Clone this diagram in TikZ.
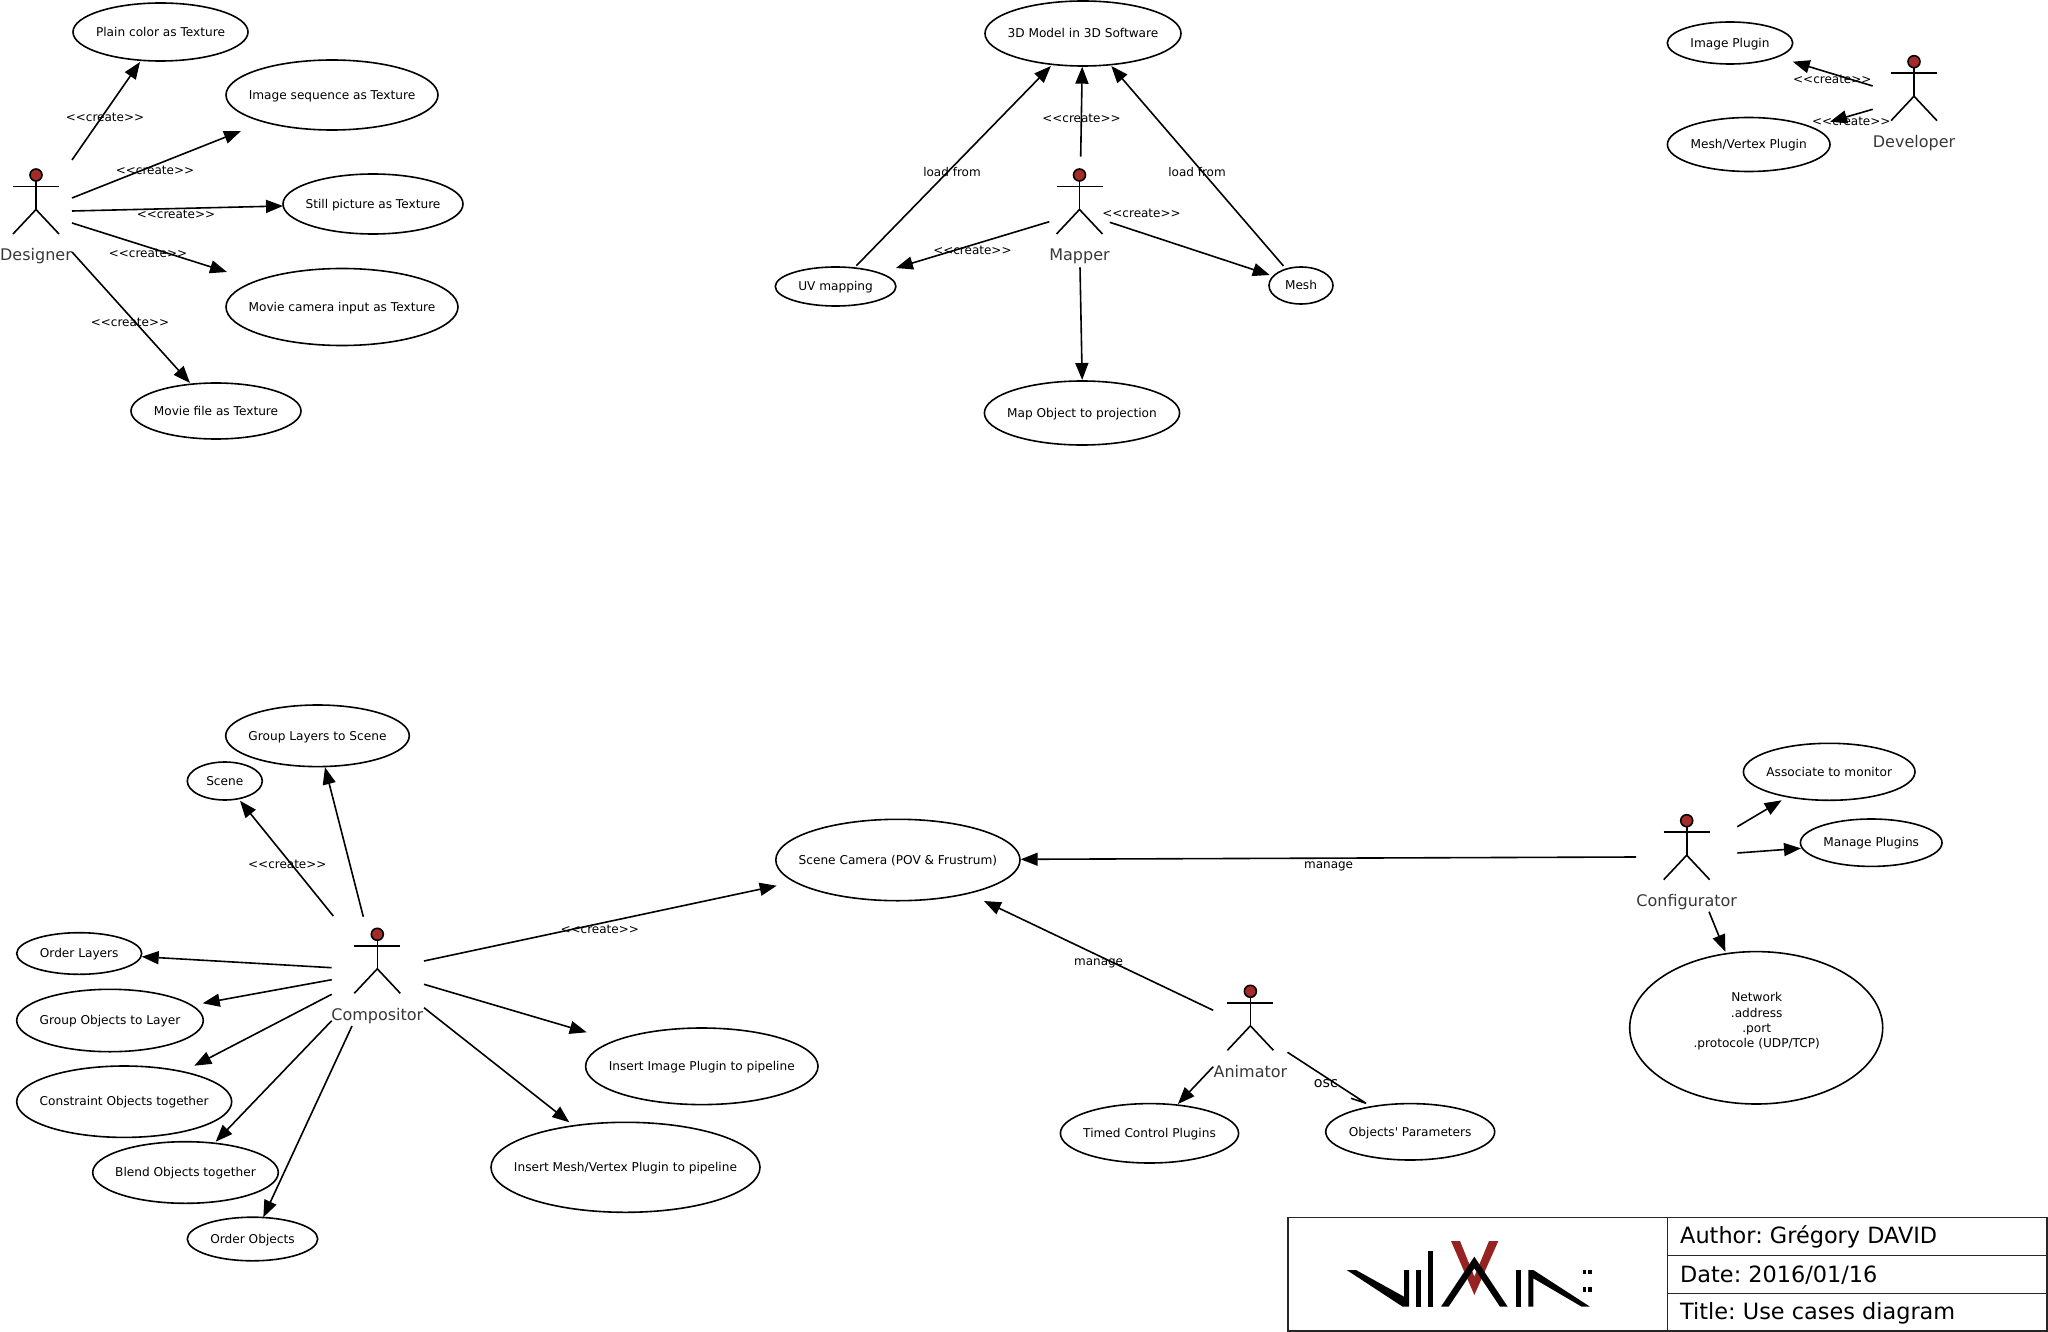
\documentclass[tikz,border=0pt]{standalone}
\usepackage{fontspec}
\setmainfont{DejaVu Sans}[Ligatures=TeXOff]
\usetikzlibrary{shapes.geometric,arrows.meta}
\definecolor{headred}{HTML}{A52A2A}
\definecolor{logored}{HTML}{962222}
\frenchspacing
\tikzset{
  usecase/.style={draw=black,line width=1.6pt,ellipse,inner sep=0pt,outer sep=0pt},
  uclabel/.style={font=\fontsize{12.15}{15.3}\selectfont,inner sep=0pt,text height=11pt,text depth=2.5pt},
  ucmulti/.style={font=\fontsize{12.15}{15.3}\selectfont,inner sep=0pt,align=center},
  edgelab/.style={font=\fontsize{12}{14}\selectfont,inner sep=0pt,text height=12pt,text depth=2.5pt},
  osclab/.style={font=\fontsize{14.3}{16}\selectfont,inner sep=0pt,text height=12pt,text depth=2.5pt},
  actorbox/.style={inner sep=0pt,minimum width=72pt,minimum height=110pt},
  actorname/.style={font=\fontsize{16}{18}\selectfont,text=black!78,inner sep=0pt,text height=12pt,text depth=3.5pt},
  stick/.style={line width=1.6pt,draw=black},
  conn/.style={line width=1.6pt,draw=black,-{Triangle[length=17pt,width=13pt]}},
  plainconn/.style={line width=1.6pt,draw=black,line join=bevel},
  tbline/.style={line width=1.5pt,draw=black!85},
  tbtext/.style={font=\fontsize{22.4}{24}\selectfont,inner sep=0pt,anchor=west,text height=16pt,text depth=5pt}
}
\newcommand{\crea}{<<create>>}
\newcommand{\uc}[6]{\node[usecase,minimum width={2*#4 pt},minimum height={2*#5 pt},label={[uclabel]center:#6}] (#1) at (#2,#3) {};}
\newcommand{\actor}[4]{%
  \node[actorbox] (#1) at (#2,#3) {};
  \node[actorname] (#1-name) at (#2,#3+44.5) {#4};
  \begin{scope}[shift={(#1.center)}]
    \draw[stick] (0,-31) -- (0,-2.5);
    \draw[stick] (-23,-25.5) -- (23,-25.5);
    \draw[stick] (-23,22) -- (0,-2.5) -- (23,22);
    \draw[stick,fill=headred] (0,-37) circle[radius=6];
  \end{scope}}
\newcommand{\link}[4]{\draw[conn] ([shift={(#2)}]#1.center) -- ([shift={(#4)}]#3.center);}
\begin{document}
\begin{tikzpicture}[x=1pt,y=-1pt]
\useasboundingbox (0,0) rectangle (2048,1332);
% Designer
\uc{plain}{160.5}{32}{87.5}{29}{Plain color as Texture}
\uc{imgseq}{332}{95}{106}{35}{Image sequence as Texture}
\uc{still}{373}{204}{90}{30}{Still picture as Texture}
\uc{camera}{342}{307}{116}{38.5}{Movie camera input as Texture}
\uc{moviefile}{216}{411}{85}{28}{Movie file as Texture}
\actor{designer}{36}{212}{Designer}
\link{designer}{36,-52}{plain}{-20.5,30}
\link{designer}{36,-14}{imgseq}{-91,36}
\link{designer}{36,-1}{still}{-90,2}
\link{designer}{36,11}{camera}{-115,-35}
\link{designer}{36,40}{moviefile}{-26,-28}
\node[edgelab] (d1) at (105,117) {\crea};
\node[edgelab] (d2) at (155,170) {\crea};
\node[edgelab] (d3) at (176,214) {\crea};
\node[edgelab] (d4) at (148,253) {\crea};
\node[edgelab] (d5) at (130,322) {\crea};
% Mapper
\uc{model}{1083}{33.5}{98}{32.5}{3D Model in 3D Software}
\uc{uv}{835.6}{286.5}{60.3}{19.5}{UV mapping}
\uc{mesh}{1301}{285.5}{32}{18.5}{Mesh}
\uc{mapobj}{1082}{413}{97.6}{32}{Map Object to projection}
\actor{mapper}{1079.5}{212}{Mapper}
\link{mapper}{1.2,-55.3}{model}{-0.8,33.2}
\link{mapper}{-30.2,9.7}{uv}{60.3,-18.5}
\link{mapper}{30.3,10.3}{mesh}{-31.2,-10.5}
\link{mapper}{0.5,55.3}{mapobj}{0.2,-33}
\link{uv}{20.8,-20.8}{model}{-32.1,32.5}
\link{mesh}{-17.5,-19.5}{model}{28.3,32.5}
\node[edgelab] (m1) at (952,171.7) {load from};
\node[edgelab] (m2) at (1081.5,117.7) {\crea};
\node[edgelab] (m3) at (1197,171.7) {load from};
\node[edgelab] (m4) at (1141.5,212.7) {\crea};
\node[edgelab] (m5) at (972.4,249.7) {\crea};
% Developer
\uc{imgplug}{1730}{43}{62.7}{21}{Image Plugin}
\uc{meshplug}{1748.7}{144.5}{81.3}{27}{Mesh/Vertex Plugin}
\actor{developer}{1914}{98.7}{Developer}
\link{developer}{-41.3,-12.7}{imgplug}{62.7,18.7}
\link{developer}{-41.3,10.6}{meshplug}{81.3,-22.8}
\node[edgelab] (v1) at (1832.3,79) {\crea};
\node[edgelab] (v2) at (1851.3,120.7) {\crea};
% Compositor
\uc{grouplayers}{317.5}{735.8}{91.8}{30.8}{Group Layers to Scene}
\uc{scene}{224.8}{781}{37.5}{19}{Scene}
\uc{orderlayers}{79.2}{953.5}{62.5}{20.8}{Order Layers}
\uc{groupobj}{110}{1020.5}{93.3}{31.2}{Group Objects to Layer}
\uc{constraint}{124.2}{1101.7}{107.5}{35.7}{Constraint Objects together}
\uc{blend}{185.5}{1172.5}{92.8}{30.8}{Blend Objects together}
\uc{orderobj}{252.5}{1239}{65.2}{21.8}{Order Objects}
\uc{insimg}{701.8}{1066.3}{116.2}{38.3}{Insert Image Plugin to pipeline}
\uc{insmesh}{625.5}{1167.3}{134.5}{45}{Insert Mesh/Vertex Plugin to pipeline}
\uc{scenecam}{897.9}{860}{122.1}{40.7}{Scene Camera (POV \& Frustrum)}
\actor{compositor}{377.3}{971.3}{Compositor}
\link{compositor}{-44,-55.3}{scene}{15.2,19.7}
\link{compositor}{-14,-54.6}{grouplayers}{7.5,31.5}
\link{compositor}{-45.6,-3.6}{orderlayers}{62.5,3.2}
\link{compositor}{-45.6,8.4}{groupobj}{92.7,-17.2}
\link{compositor}{-45.6,23}{constraint}{70.1,-36}
\link{compositor}{-45.6,49.4}{blend}{30.2,-30.8}
\link{compositor}{-25.3,54.7}{orderobj}{10.8,-21.7}
\link{compositor}{46.7,-10.3}{scenecam}{-121.2,25.7}
\link{compositor}{46.7,13}{insimg}{-115.1,-34}
\link{compositor}{46.7,36.4}{insmesh}{-56.2,-45}
\node[edgelab] (c1) at (287.3,863.7) {\crea};
\node[edgelab] (c2) at (599.7,929) {\crea};
% Configurator
\uc{assoc}{1829.2}{771.8}{85.8}{28.5}{Associate to monitor}
\uc{manageplug}{1871.2}{842.7}{70.8}{23.7}{Manage Plugins}
\node[usecase,minimum width=253pt,minimum height=152.4pt] (network) at (1756.2,1027.8) {};
\node[ucmulti] (networktext) at (1756.7,1021.5) {Network\\.address\\.port\\.protocole (UDP/TCP)};
\actor{configurator}{1686.7}{857.7}{Configurator}
\link{configurator}{50.6,-31}{assoc}{-47.5,28.5}
\link{configurator}{50.6,-4.7}{manageplug}{-70.2,5.6}
\link{configurator}{22.3,54}{network}{-30.9,-76.1}
\link{configurator}{-50.7,-0.7}{scenecam}{122.8,-0.7}
\node[edgelab] (f1) at (1328.6,864) {manage};
% Animator
\uc{timed}{1149.5}{1133.3}{89.1}{29.7}{Timed Control Plugins}
\uc{objparams}{1410.2}{1131.8}{84.5}{28.2}{Objects' Parameters}
\actor{animator}{1250.4}{1028.3}{Animator}
\link{animator}{-37.2,-18}{scenecam}{86,41}
\link{animator}{-37.2,38.4}{timed}{28.4,-29.3}
\draw[plainconn] ([shift={(37.1,24)}]animator.center) -- ([shift={(-44.2,-28.5)}]objparams.center) -- ++(-15,-5);
\node[edgelab] (a1) at (1098.6,961) {manage};
\node[osclab] (a2) at (1326,1082.3) {osc};
% Title block
\draw[tbline] (1288,1217.5) rectangle (2047,1331);
\draw[tbline] (1667.5,1217.5) -- (1667.5,1331);
\draw[tbline] (1667.5,1255.3) -- (2047,1255.3);
\draw[tbline] (1667.5,1293.3) -- (2047,1293.3);
\node[tbtext] (author) at (1680,1238) {Author: Grégory DAVID};
\node[tbtext] (date) at (1680,1276.5) {Date: 2016/01/16};
\node[tbtext] (title) at (1680,1313.5) {Title: Use cases diagram};
% Logo
\begin{scope}[shift={(1340,1235)},scale=1/3]
  \fill[logored] (333,18) -- (360,18) -- (403,125) -- (447,18) -- (475,18) -- (403,180) -- cycle;
  \fill[black] (20,105) -- (48,105) -- (192,185) -- (192,105) -- (207,105) -- (207,215) -- (188,215) -- cycle;
  \fill[black] (228,105) rectangle (243,215);
  \fill[black] (264,48) rectangle (279,215);
  \fill[black] (403,65) -- (503,215) -- (480,215) -- (403,100) -- (326,215) -- (303,215) -- cycle;
  \fill[black] (528,105) rectangle (543,215);
  \fill[black] (565,105) -- (580,105) -- (750,215) -- (725,215) -- (580,130) -- (580,215) -- (565,215) -- cycle;
  \fill[black] (728,105) rectangle (738,118);
  \fill[black] (744,105) rectangle (755,118);
  \fill[black] (728,157) rectangle (738,170);
  \fill[black] (744,157) rectangle (755,170);
\end{scope}
\end{tikzpicture}
\end{document}
